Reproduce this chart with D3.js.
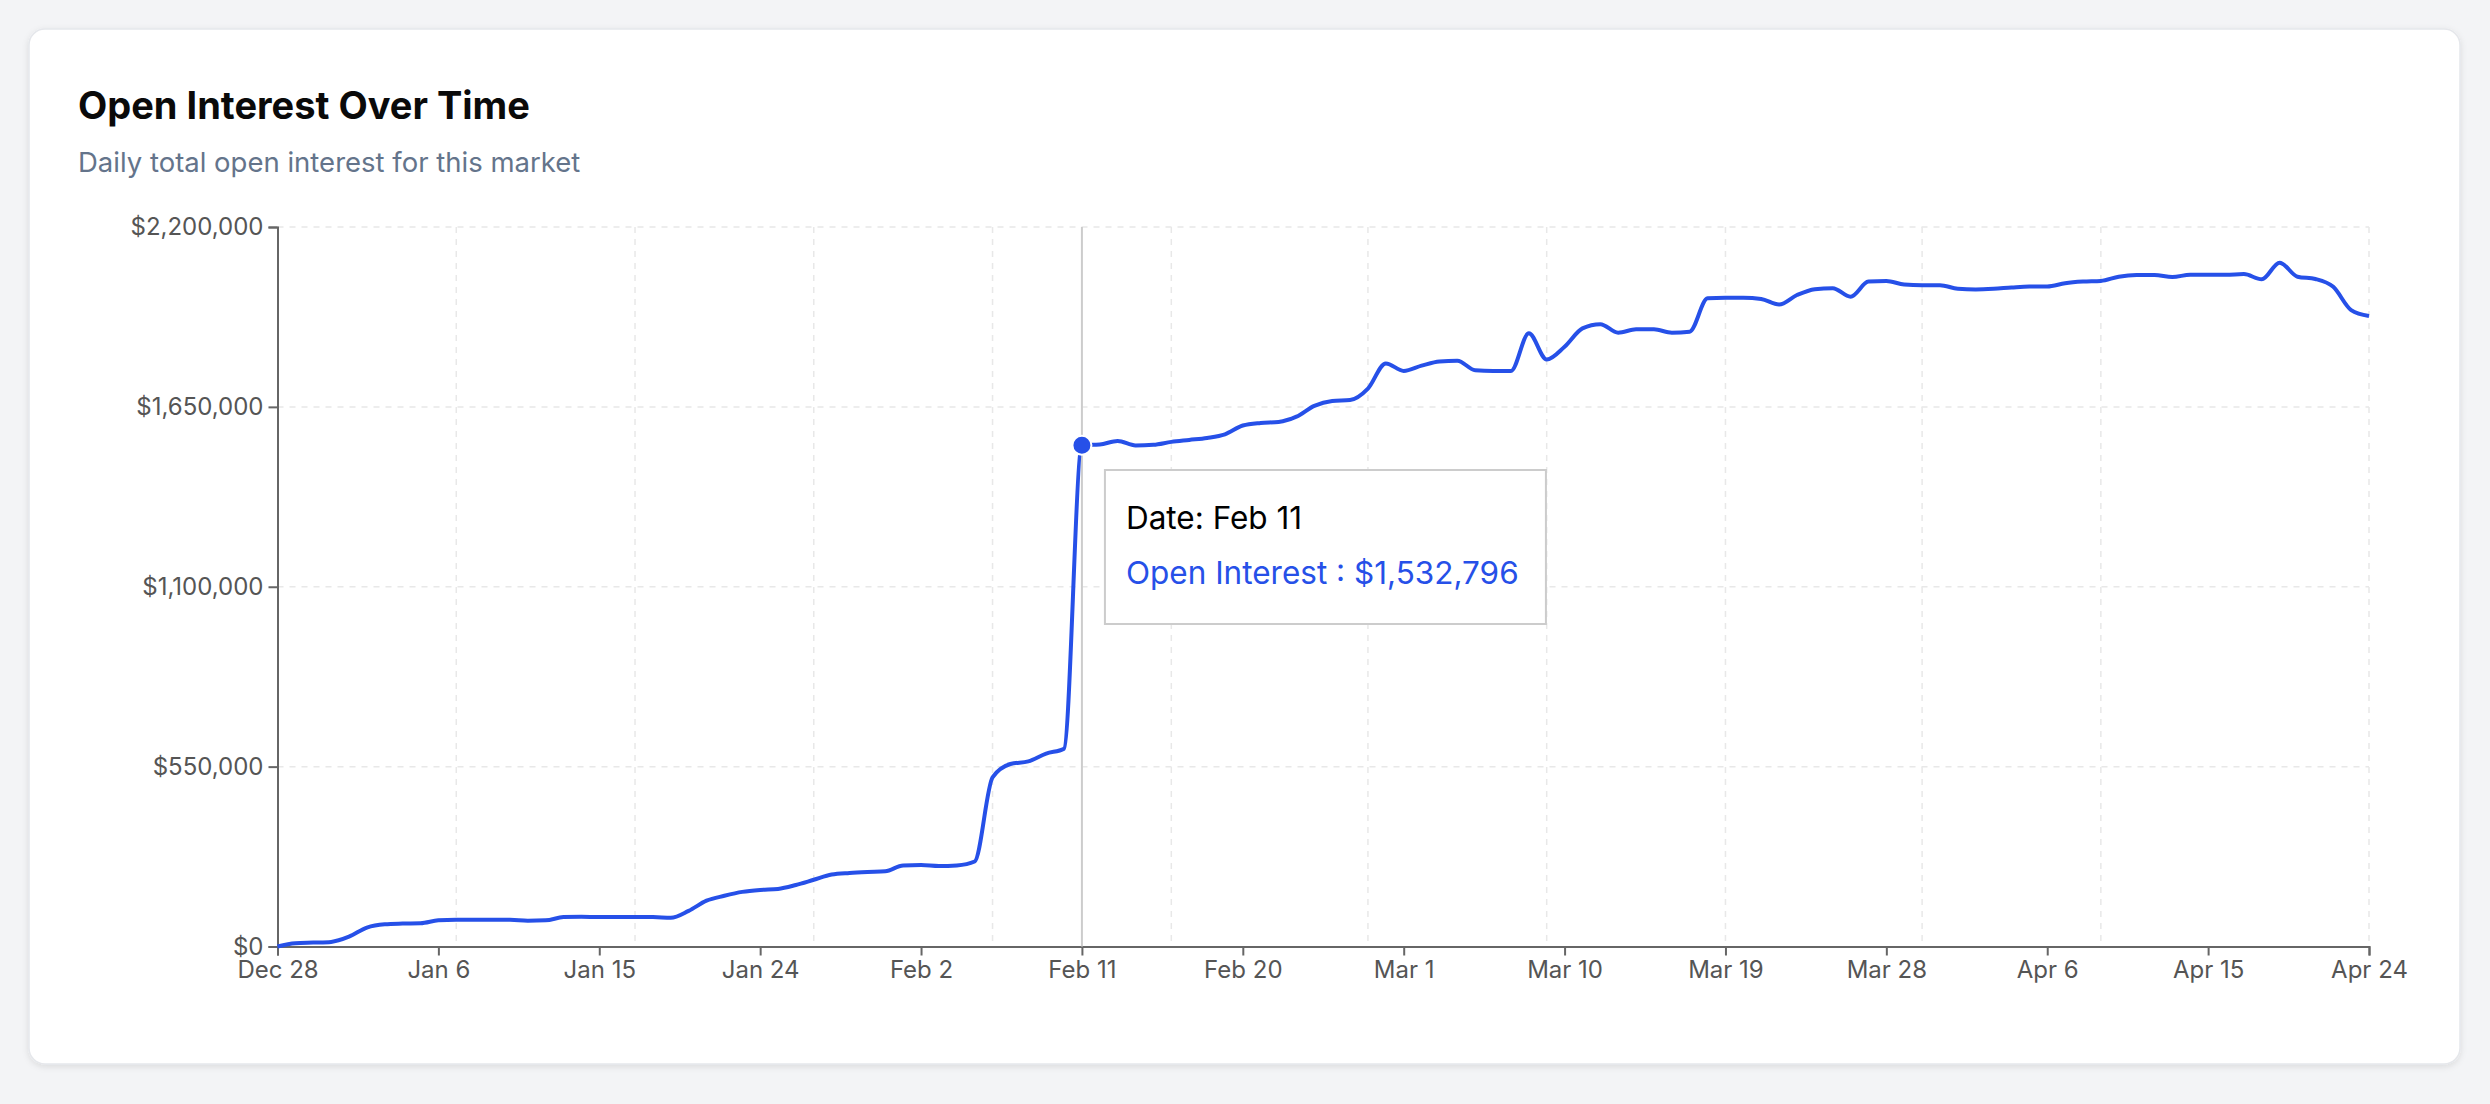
<!DOCTYPE html>
<html><head><meta charset="utf-8">
<script src="https://cdn.jsdelivr.net/npm/d3@7"></script>
<style>
html,body{margin:0;padding:0;background:#f3f4f6;font-family:Inter,"Noto Sans",sans-serif;}
</style></head>
<body>
<svg id="c" width="2490" height="1104"></svg>
<script>
const startDate = "2024-12-28";
const values = [0,10000,12000,14000,30000,58000,68000,70000,71000,80000,82000,82000,82000,82000,79000,80000,90000,91000,90000,90000,90000,90000,88000,109000,140000,155000,167000,173000,176000,188000,204000,220000,225000,228000,230000,248000,249000,246000,248000,260000,517000,558000,566000,590000,605000,1532796,1535000,1546000,1532000,1534000,1543000,1549000,1555000,1566000,1593000,1601000,1604000,1620000,1653000,1668000,1671000,1706000,1783000,1760000,1776000,1789000,1791000,1762000,1760000,1760000,1875000,1795000,1834000,1890000,1903000,1877000,1887000,1887000,1877000,1880000,1982000,1984000,1984000,1980000,1963000,1992000,2010000,2013000,1987000,2033000,2035000,2024000,2022000,2022000,2011000,2009000,2011000,2015000,2018000,2018000,2028000,2033000,2035000,2048000,2053000,2053000,2047000,2054000,2054000,2054000,2056000,2040000,2091000,2048000,2041000,2017000,1946000,1928000];
const yTicks = [0,550000,1100000,1650000,2200000];
const xTickOffsets = [0,9,18,27,36,45,54,63,72,81,90,99,108,117];
const vGridOffsets = [10,20,30,40,50,61,71,81,92,102,117];
const activeIndex = 45;

const day = d3.utcParse("%Y-%m-%d")(startDate);
const data = values.map((v,i)=>({date:d3.utcDay.offset(day,i), value:v}));
const svg = d3.select("#c");
const defs = svg.append("defs");
const f = defs.append("filter").attr("id","sh").attr("x","-5%").attr("y","-5%").attr("width","110%").attr("height","110%");
f.append("feDropShadow").attr("dx",0).attr("dy",2).attr("stdDeviation",3).attr("flood-color","#000").attr("flood-opacity",0.10);
svg.append("rect").attr("x",29).attr("y",29).attr("width",2431).attr("height",1035).attr("rx",16)
  .attr("fill","#fff").attr("stroke","#e5e7eb").attr("stroke-width",1.5).attr("filter","url(#sh)");
svg.append("text").attr("x",78).attr("y",119).text("Open Interest Over Time")
  .attr("font-size",38).attr("font-weight",700).attr("fill","#0a0a0a");
svg.append("text").attr("x",78).attr("y",172).text("Daily total open interest for this market")
  .attr("font-size",27.5).attr("fill","#64748b");

const L=277.5,R=2369,T=227,B=946.5;
const x = d3.scaleUtc().domain([day, d3.utcDay.offset(day,117)]).range([L,R]);
const y = d3.scaleLinear().domain([0,2200000]).range([B,T]);
const g = svg.append("g");
g.selectAll(".hg").data(yTicks.slice(1)).join("line").attr("x1",L).attr("x2",R)
  .attr("y1",d=>y(d)).attr("y2",d=>y(d)).attr("stroke","#e8e8e8").attr("stroke-width",1.5).attr("stroke-dasharray","6 6");
g.selectAll(".vg").data(vGridOffsets).join("line").attr("y1",T).attr("y2",B)
  .attr("x1",d=>x(d3.utcDay.offset(day,d))).attr("x2",d=>x(d3.utcDay.offset(day,d)))
  .attr("stroke","#e8e8e8").attr("stroke-width",1.5).attr("stroke-dasharray","6 6");
const fmt = d3.utcFormat("%b %-d");
const xa = d3.axisBottom(x).tickValues(xTickOffsets.map(o=>d3.utcDay.offset(day,o))).tickFormat(fmt).tickSize(9).tickPadding(5);
const ya = d3.axisLeft(y).tickValues(yTicks).tickFormat(d=>"$"+d3.format(",")(d)).tickSize(9).tickPadding(5);
const gx = svg.append("g").attr("transform",`translate(0,${B})`).call(xa);
const gy = svg.append("g").attr("transform",`translate(${L},0)`).call(ya);
[gx,gy].forEach(a=>{a.selectAll("path,line").attr("stroke","#666").attr("stroke-width",2);
  a.selectAll("text").attr("font-size",24).attr("fill","#555").attr("font-family","Inter,sans-serif");});
const ad = data[activeIndex];
svg.append("line").attr("x1",x(ad.date)).attr("x2",x(ad.date)).attr("y1",T).attr("y2",B).attr("stroke","#ccc").attr("stroke-width",2);
const line = d3.line().x(d=>x(d.date)).y(d=>y(d.value)).curve(d3.curveMonotoneX);
svg.append("path").datum(data).attr("d",line).attr("fill","none").attr("stroke","#2650e8").attr("stroke-width",4);
svg.append("circle").attr("cx",x(ad.date)).attr("cy",y(ad.value)).attr("r",9.5).attr("fill","#2650e8").attr("stroke","#fff").attr("stroke-width",2);
const tx = x(ad.date)+23, ty=470;
svg.append("rect").attr("x",tx).attr("y",ty).attr("width",441).attr("height",154).attr("fill","#fff").attr("stroke","#ccc").attr("stroke-width",2);
svg.append("text").attr("x",tx+21).attr("y",ty+59).text("Date: "+fmt(ad.date)).attr("font-size",31.5).attr("fill","#000");
svg.append("text").attr("x",tx+21).attr("y",ty+114).text("Open Interest : $"+d3.format(",")(ad.value)).attr("font-size",31.5).attr("fill","#2650e8");
</script>
</body></html>
